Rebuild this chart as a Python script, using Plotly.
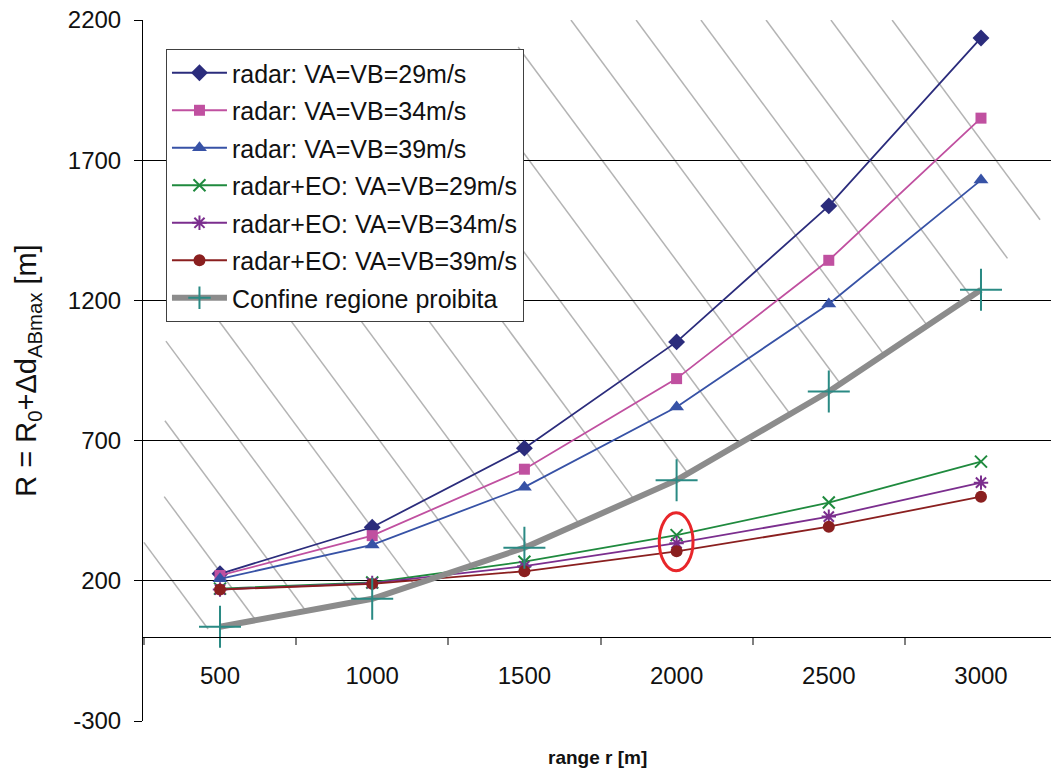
import numpy as np
import plotly.graph_objects as go

# ---- data -------------------------------------------------------------
ranges = [500, 1000, 1500, 2000, 2500, 3000]

radar_29 = [225, 391, 673, 1052, 1537, 2136]
radar_34 = [219, 361, 598, 921, 1343, 1850]
radar_39 = [207, 328, 534, 820, 1187, 1629]
eo_29 = [172, 194, 268, 363, 479, 625]
eo_34 = [169, 192, 252, 334, 429, 550]
eo_39 = [169, 189, 234, 305, 393, 500]
confine = [36, 136, 318, 559, 875, 1238]

y_ticks = [-300, 200, 700, 1200, 1700, 2200]
y_tick_text = ["-300", "200", "700", "1200", "1700", "2200"]

# ---- styles -----------------------------------------------------------
FONT = "Liberation Sans, Arial, sans-serif"
series = [
    ("radar: VA=VB=29m/s", radar_29, "#2B2C7C", "diamond", 13, 1.8),
    ("radar: VA=VB=34m/s", radar_34, "#C050A0", "square", 11, 1.8),
    ("radar: VA=VB=39m/s", radar_39, "#3752A6", "triangle-up", 13, 1.8),
    ("radar+EO: VA=VB=29m/s", eo_29, "#1F8A3E", "x-thin-open", 12, 1.8),
    ("radar+EO: VA=VB=34m/s", eo_34, "#7B2E8E", "asterisk-open", 12, 1.8),
    ("radar+EO: VA=VB=39m/s", eo_39, "#8A1F1F", "circle", 12, 1.8),
]

fig = go.Figure()

for name, vals, color, symbol, msize, lw in series:
    open_sym = symbol.endswith("open")
    fig.add_trace(go.Scatter(
        x=ranges, y=vals, name=name, legendgroup=name,
        mode="lines+markers",
        line=dict(color=color, width=lw),
        marker=dict(symbol=symbol, size=msize, color=color,
                    line=dict(color=color, width=2 if open_sym else 0)),
        cliponaxis=False,
    ))

fig.add_trace(go.Scatter(
    x=ranges, y=confine, name="Confine regione proibita",
    legendgroup="confine", mode="lines+markers",
    line=dict(color="#8C8C8C", width=6),
    marker=dict(symbol="cross-thin-open", size=30, color="#2A8A84",
                line=dict(color="#2A8A84", width=2)),
    cliponaxis=False,
))

# ---- hatching of the forbidden region ---------------------------------
# parallel lines y = slope * (x - x0), running down from the upper-left
# edge of the hatched area to the region boundary
hatch_slope = -1.4656
hatch_x0 = [480, 658, 845, 1042, 1265, 1502, 1732, 1955, 2195, 2435,
            2675, 2915, 3154, 3368, 3581, 3795, 4008, 4209]
x_left, x_right = 247, 3230
y_top = 2200

# lower edge: region boundary, extended on both sides
r0 = (confine[1] - confine[0]) / (ranges[1] - ranges[0])
lower_edge = ([(x_left, confine[0] - r0 * (ranges[0] - x_left))]
              + list(zip(ranges, confine))
              + [(3300, confine[-1] + 1.285 * 300)])
# upper-left edge of the hatched area
upper_edge = [(x_left, 330), (319, 506), (319, 1052), (1495, 2118),
              (1580, y_top), (x_right + 200, y_top)]


def cross(poly, x0):
    pts = []
    for (xa, ya), (xb, yb) in zip(poly[:-1], poly[1:]):
        fa = ya - hatch_slope * (xa - x0)
        fb = yb - hatch_slope * (xb - x0)
        if fa == fb:
            continue
        t = fa / (fa - fb)
        if 0 <= t <= 1:
            xi = xa + t * (xb - xa)
            pts.append((xi, hatch_slope * (xi - x0)))
    return pts


shapes = []
for x0 in hatch_x0:
    lo = cross(lower_edge, x0)
    if not lo:
        continue
    xb, yb = max(lo, key=lambda p: p[1])
    hi = [p for p in cross(upper_edge, x0) if p[1] > yb]
    xt, yt = min(hi, key=lambda p: p[1])
    shapes.append(dict(type="line", xref="x", yref="y", x0=xt, y0=yt,
                       x1=xb, y1=yb, layer="below",
                       line=dict(color="#B4B4B4", width=1.5)))

# highlight around the radar+EO points at 2000 m
i_hl = ranges.index(2000)
shapes.append(dict(type="circle", xref="x", yref="y",
                   x0=ranges[i_hl] - 57, x1=ranges[i_hl] + 54,
                   y0=eo_39[i_hl] - 69, y1=eo_29[i_hl] + 80,
                   line=dict(color="#E8262A", width=3), layer="above"))

# ---- layout -------------------------------------------------------------
fig.update_layout(
    width=1051, height=771,
    margin=dict(l=143, r=0, t=20, b=50),
    paper_bgcolor="white", plot_bgcolor="white",
    font=dict(family=FONT, size=23, color="#111111"),
    shapes=shapes,
    showlegend=True,
    legend=dict(x=0.0253, y=0.9586, xanchor="left", yanchor="top",
                bgcolor="white", bordercolor="#404040", borderwidth=1,
                font=dict(family=FONT, size=25, color="#111111"),
                tracegroupgap=2, itemwidth=55, traceorder="grouped"),
    xaxis=dict(
        range=[x_left, x_right],
        tickmode="array", tickvals=ranges, ticktext=[str(r) for r in ranges],
        ticks="", showgrid=False, zeroline=False,
        showline=True, linecolor="black", linewidth=1,
        anchor="free", position=300 / 2500,
        ticklabelstandoff=17,
        tickfont=dict(family=FONT, size=24, color="#111111"),
        minor=dict(ticks="outside", tick0=250, dtick=500, ticklen=7,
                   tickcolor="#808080", tickwidth=1.5, showgrid=False),
        title=None,
    ),
    yaxis=dict(
        range=[-300, 2200], tickmode="array", tickvals=y_ticks,
        ticktext=y_tick_text,
        showgrid=True, gridcolor="black", gridwidth=1,
        zeroline=False, showline=True, linecolor="black", linewidth=1,
        ticks="outside", ticklen=8, tickcolor="black",
        ticklabelstandoff=8,
        tickfont=dict(family=FONT, size=24, color="#111111"),
        title=dict(text="R = R<sub>0</sub>+Δd<sub>ABmax</sub> [m]",
                   font=dict(family=FONT, size=29, color="#111111"),
                   standoff=22),
    ),
)

fig.add_annotation(text="<b>range r [m]</b>", xref="paper", yref="paper",
                   x=0.5, y=0, yshift=-36, yanchor="middle", showarrow=False,
                   font=dict(family=FONT, size=19, color="#111111"))

fig.write_html("out.html")
